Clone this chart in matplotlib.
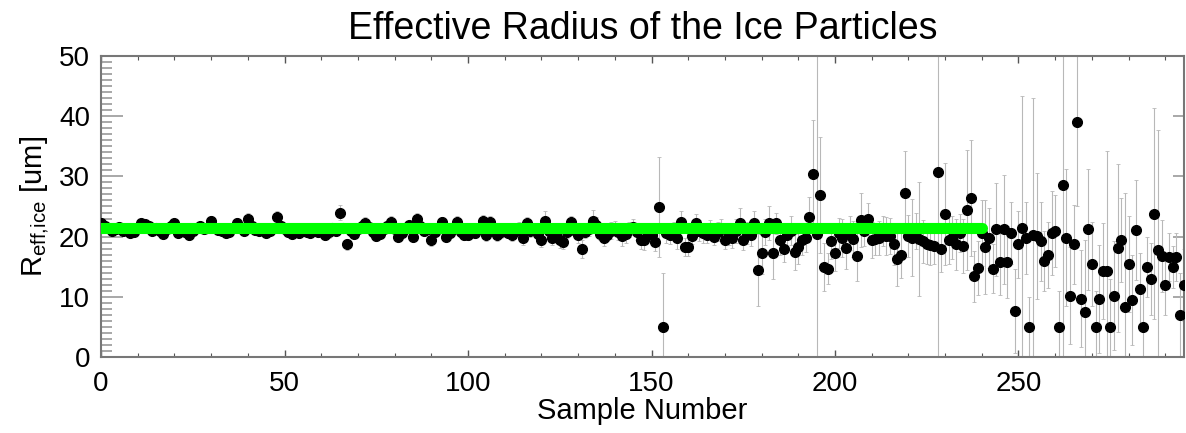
import numpy as np
import matplotlib
matplotlib.use("Agg")
import matplotlib.pyplot as plt
from matplotlib.ticker import MultipleLocator

plt.rcParams['font.family'] = ['Liberation Sans', 'DejaVu Sans']

# effective radius of the ice particles per sample [um]
reff = [
    22.3, 21.8, 21.5, 21.0, 21.2, 21.6, 20.9, 21.3, 20.6, 20.8,
    21.4, 22.3, 22.1, 21.7, 21.0, 21.5, 20.9, 20.5, 21.2, 21.8,
    22.2, 20.6, 21.3, 20.8, 20.2, 21.0, 21.4, 21.7, 21.2, 21.5,
    22.6, 21.4, 21.1, 20.9, 20.6, 20.8, 21.5, 22.3, 21.6, 21.0,
    23.0, 21.8, 21.1, 20.9, 21.3, 20.6, 21.0, 21.4, 23.3, 21.8,
    21.2, 20.7, 20.5, 21.0, 20.6, 21.3, 20.8, 20.6, 21.1, 20.7,
    20.9, 20.2, 20.8, 21.4, 21.0, 24.0, 21.5, 18.7, 20.9, 20.4,
    21.3, 21.8, 22.2, 21.6, 20.8, 20.1, 20.5, 21.2, 21.7, 22.4,
    21.3, 20.0, 20.6, 21.4, 21.9, 20.0, 22.9, 21.8, 20.9, 21.2,
    19.4, 20.7, 21.5, 22.4, 20.0, 20.6, 21.3, 22.4, 20.8, 20.2,
    20.2, 21.0, 20.6, 21.4, 22.6, 20.2, 22.4, 21.2, 20.2, 20.8,
    21.3, 20.6, 20.2, 21.0, 21.5, 19.7, 22.3, 20.9, 21.2, 20.5,
    19.4, 22.6, 21.0, 19.7, 20.4, 19.4, 19.1, 20.7, 22.4, 21.1,
    20.3, 17.9, 20.8, 21.3, 22.6, 22.0, 20.5, 19.7, 20.2, 21.0,
    21.4, 20.8, 20.1, 20.4, 21.2, 21.6, 20.7, 19.4, 19.4, 20.5,
    20.3, 19.1, 24.9, 5.0, 20.6, 20.2, 21.0, 19.7, 22.4, 18.3,
    18.3, 20.1, 22.2, 21.0, 20.6, 20.2, 21.3, 20.0, 20.8, 21.2,
    19.4, 20.3, 19.7, 20.9, 22.2, 19.4, 20.6, 20.2, 22.3, 14.4,
    17.3, 20.8, 22.2, 17.3, 22.2, 19.5, 17.9, 20.2, 21.0, 17.5,
    18.2, 19.5, 19.7, 23.3, 30.4, 20.5, 26.9, 15.0, 14.7, 19.2,
    17.3, 20.6, 19.8, 18.1, 20.6, 19.6, 16.7, 22.8, 20.9, 22.9,
    19.5, 19.6, 19.8, 21.0, 20.1, 20.1, 18.7, 16.2, 17.0, 27.3,
    20.1, 19.8, 21.0, 19.6, 19.2, 18.7, 18.6, 18.5, 30.7, 18.0,
    23.7, 19.4, 19.8, 18.7, 20.6, 18.4, 24.4, 26.4, 13.4, 14.8,
    20.6, 18.3, 19.8, 14.7, 21.2, 15.8, 21.2, 15.8, 20.6, 7.6,
    18.7, 21.4, 19.8, 5.0, 20.2, 20.1, 19.2, 15.9, 16.9, 20.6,
    20.9, 5.0, 28.6, 19.8, 10.2, 18.7, 39.0, 9.7, 7.5, 21.2,
    15.4, 5.0, 9.6, 14.3, 14.3, 5.0, 10.2, 18.1, 19.4, 8.3,
    15.4, 9.5, 21.1, 11.3, 5.0, 15.0, 13.0, 23.8, 17.7, 16.8,
    12.0, 16.6, 15.0, 16.6, 6.9, 12.0,
]

# one-sigma uncertainty of each retrieval [um]
reff_err = [
    0.6, 0.5, 0.7, 0.4, 0.6, 0.5, 0.8, 0.5, 0.6, 0.7,
    0.5, 0.6, 0.4, 0.5, 0.7, 0.6, 0.5, 0.8, 0.6, 0.5,
    0.7, 0.6, 0.5, 0.6, 0.8, 0.5, 0.6, 0.7, 0.5, 0.6,
    0.9, 0.5, 0.6, 0.5, 0.7, 0.6, 0.5, 0.8, 0.6, 0.5,
    1.0, 0.6, 0.5, 0.7, 0.6, 0.5, 0.6, 0.7, 0.9, 0.6,
    0.6, 0.7, 0.5, 0.6, 0.8, 0.6, 0.5, 0.7, 0.6, 0.8,
    0.6, 0.7, 1.0, 0.6, 0.5, 1.2, 0.6, 0.9, 0.7, 0.6,
    0.8, 0.7, 1.0, 0.6, 0.7, 0.8, 0.6, 0.7, 0.9, 1.0,
    0.7, 0.8, 0.6, 0.9, 0.7, 0.8, 1.0, 0.7, 0.6, 0.8,
    1.0, 0.7, 0.8, 0.9, 0.7, 0.8, 0.6, 1.1, 0.7, 0.8,
    0.8, 0.7, 0.9, 0.8, 1.0, 0.9, 1.1, 0.8, 0.9, 1.0,
    0.8, 0.9, 1.0, 0.8, 0.9, 1.1, 1.0, 0.9, 0.8, 1.0,
    1.2, 1.6, 0.9, 1.1, 1.0, 1.3, 1.2, 1.0, 1.1, 0.9,
    1.4, 1.5, 1.0, 1.2, 1.8, 1.3, 1.1, 1.2, 1.0, 1.4,
    1.2, 1.3, 1.6, 1.5, 1.2, 1.4, 1.3, 1.5, 1.6, 1.4,
    1.3, 1.5, 8.3, 8.9, 1.6, 1.4, 1.5, 1.7, 1.8, 1.5,
    1.6, 1.4, 1.5, 1.7, 1.6, 1.3, 1.5, 1.4, 1.6, 1.8,
    1.5, 1.7, 1.6, 2.0, 2.5, 1.6, 1.8, 1.7, 1.9, 6.0,
    3.5, 2.2, 2.8, 4.4, 1.8, 2.6, 2.2, 2.0, 2.4, 3.0,
    2.8, 2.5, 2.2, 3.2, 9.0, 31.0, 9.6, 4.0, 2.6, 2.9,
    3.0, 2.5, 3.2, 3.5, 2.8, 3.0, 4.0, 4.5, 2.4, 2.7,
    3.0, 2.6, 2.8, 2.5, 3.2, 3.0, 3.5, 4.4, 3.8, 7.0,
    3.5, 6.4, 3.0, 9.4, 3.6, 3.2, 3.4, 3.0, 31.0, 3.8,
    8.5, 4.0, 3.6, 4.2, 3.2, 4.5, 10.0, 9.7, 4.2, 4.5,
    5.5, 7.8, 5.0, 4.0, 7.7, 5.5, 9.0, 6.0, 5.2, 7.0,
    5.5, 22.0, 6.0, 5.0, 22.8, 10.5, 6.5, 5.0, 5.5, 7.0,
    6.0, 6.0, 29.0, 11.4, 8.0, 6.5, 14.0, 8.0, 12.0, 10.0,
    7.0, 6.0, 9.0, 8.0, 20.0, 8.0, 9.0, 14.0, 7.0, 19.0,
    8.0, 7.5, 8.3, 6.0, 6.0, 5.0, 6.0, 17.5, 20.0, 6.0,
    5.0, 4.0, 3.5, 4.0, 7.0, 6.0,
]

# mean radius over the stable part of the record
mean_reff = 21.4
mean_range = [0, 240]

samples = np.arange(len(reff))

fig = plt.figure(figsize=(11.86, 4.33), dpi=100)
ax = fig.add_axes([0.0852, 0.1755, 0.9128, 0.6952])

ax.errorbar(samples, reff, yerr=reff_err, fmt='none', ecolor='#b8b8b8',
            elinewidth=0.8, capsize=1.5, capthick=0.6)
ax.plot(samples, reff, 'o', color='black', ms=7, zorder=3)
ax.plot(mean_range, [mean_reff, mean_reff], color='#00ff00', lw=8,
        solid_capstyle='round', zorder=4)

ax.set_xlim(0, 295)
ax.set_ylim(0, 50)

ax.xaxis.set_major_locator(MultipleLocator(50))
ax.xaxis.set_minor_locator(MultipleLocator(10))
ax.yaxis.set_major_locator(MultipleLocator(10))
ax.yaxis.set_minor_locator(MultipleLocator(1))

ax.tick_params(axis='x', which='both', direction='in', top=True, bottom=True,
               color='#555555', labelsize=20, pad=10)
ax.tick_params(axis='x', which='major', length=5, width=1)
ax.tick_params(axis='x', which='minor', length=3, width=0.8)
ax.tick_params(axis='y', which='both', direction='in', left=True, right=False,
               color='#999999', labelsize=20, pad=8)
ax.tick_params(axis='y', which='major', length=16, width=1.2)
ax.tick_params(axis='y', which='minor', length=8, width=1.2)

# right axis carries the major ticks only
ax_r = ax.secondary_yaxis('right')
ax_r.yaxis.set_major_locator(MultipleLocator(10))
ax_r.tick_params(axis='y', direction='in', length=8, width=1.2,
                 color='#999999', labelright=False)

for side in ['left', 'right', 'top', 'bottom']:
    ax.spines[side].set_color('#777777')
    ax.spines[side].set_linewidth(1.5)
ax_r.spines['right'].set_visible(False)

ax.set_title('Effective Radius of the Ice Particles', fontsize=27, pad=12)
ax.set_xlabel('Sample Number', fontsize=21, labelpad=0)
ax.set_ylabel(r'R$_{\mathregular{eff{,}ice}}$ [um]', fontsize=21, labelpad=6)

fig.savefig('out.png', dpi=100)
